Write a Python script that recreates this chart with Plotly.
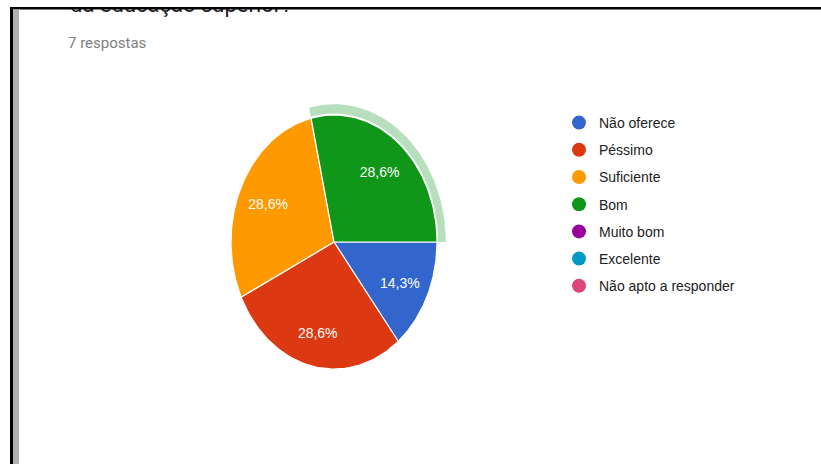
import numpy as np
import plotly.graph_objects as go

# Survey answers (7 responses)
categories = ["Não oferece", "Péssimo", "Suficiente", "Bom",
              "Muito bom", "Excelente", "Não apto a responder"]
counts = [1, 2, 2, 2, 0, 0, 0]
colors = ["#3366cc", "#dc3912", "#ff9900", "#109618",
          "#990099", "#0099c6", "#dd4477"]
highlighted = "Bom"
question_tail = "da educação superior?"
responses_label = "7 respostas"

W, H = 821, 464
CX, CY = 334, 242          # pie centre (px)
RX, RY = 103, 127          # pie radii (px), slightly taller than wide

total = sum(counts)
fig = go.Figure()


def arc(a0, a1, r, n=80):
    t = np.linspace(a0, a1, n)
    return CX + RX * r * np.cos(t), CY - RY * r * np.sin(t)


# slices, clockwise from 3 o'clock
start = 0.0
label_x, label_y, label_txt = [], [], []
for name, v, c in zip(categories, counts, colors):
    if v == 0:
        continue
    frac = v / total
    a0, a1 = start, start - frac * 2 * np.pi
    ax, ay = arc(a0, a1, 1.0)
    xs = np.concatenate([[CX], ax, [CX]])
    ys = np.concatenate([[CY], ay, [CY]])
    fig.add_trace(go.Scatter(x=xs, y=ys, mode="lines", fill="toself",
                             fillcolor=c, line=dict(color="white", width=1.2),
                             hoverinfo="skip", showlegend=False))
    if name == highlighted:
        ox, oy = arc(a0, a1, 1.085)
        ix, iy = arc(a1, a0, 1.012)
        fig.add_trace(go.Scatter(x=np.concatenate([ox, ix]),
                                 y=np.concatenate([oy, iy]),
                                 mode="lines", fill="toself",
                                 fillcolor="#b7dfbe", line=dict(width=0),
                                 hoverinfo="skip", showlegend=False))
    mid = (a0 + a1) / 2
    label_x.append(CX + RX * 0.71 * np.cos(mid))
    label_y.append(CY - RY * 0.72 * np.sin(mid) + 3)
    label_txt.append(f"{100 * frac:.1f}%".replace(".", ","))
    start = a1

fig.add_trace(go.Scatter(x=label_x, y=label_y, mode="text", text=label_txt,
                         textfont=dict(family="Arial", size=14, color="white"),
                         hoverinfo="skip", showlegend=False))

# legend entries
for i, (name, c) in enumerate(zip(categories, colors)):
    fig.add_trace(go.Scatter(x=[None], y=[None], mode="markers", name=name,
                             legendgroup=str(i),
                             marker=dict(symbol="circle", size=14, color=c)))

# header texts
fig.add_trace(go.Scatter(x=[70], y=[6], mode="text", text=[question_tail],
                         textposition="middle right",
                         textfont=dict(family="Roboto", size=22, color="#202124"),
                         hoverinfo="skip", showlegend=False))
fig.add_trace(go.Scatter(x=[68], y=[44], mode="text", text=[responses_label],
                         textposition="middle right",
                         textfont=dict(family="Roboto", size=15, color="#7f7f7f"),
                         hoverinfo="skip", showlegend=False))

# window frame
shapes = [
    dict(type="rect", x0=0, x1=W, y0=0, y1=7, fillcolor="white", line_width=0, layer="above"),
    dict(type="rect", x0=0, x1=10, y0=0, y1=H, fillcolor="white", line_width=0, layer="above"),
    dict(type="rect", x0=10, x1=W, y0=7, y1=9.5, fillcolor="black", line_width=0, layer="above"),
    dict(type="rect", x0=10, x1=13, y0=7, y1=H, fillcolor="black", line_width=0, layer="above"),
    dict(type="rect", x0=13, x1=19, y0=9.5, y1=H, fillcolor="#b0b0b0", line_width=0, layer="above"),
]

fig.update_layout(
    width=W, height=H,
    margin=dict(l=0, r=0, t=0, b=0),
    paper_bgcolor="white", plot_bgcolor="white",
    xaxis=dict(range=[0, W], visible=False, fixedrange=True),
    yaxis=dict(range=[H, 0], visible=False, fixedrange=True),
    shapes=shapes,
    showlegend=True,
    legend=dict(x=559 / W, y=1 - 107 / H, xanchor="left", yanchor="top",
                font=dict(family="Arial", size=14, color="#222222"),
                tracegroupgap=6, bgcolor="rgba(0,0,0,0)",
                itemclick=False, itemdoubleclick=False),
)

fig.write_html("out.html")
